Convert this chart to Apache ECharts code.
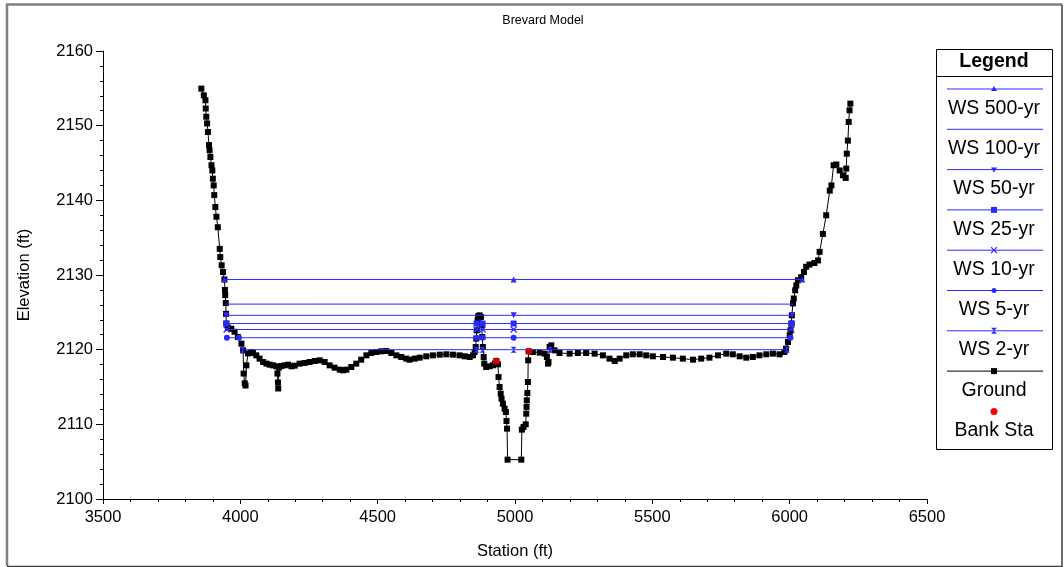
<!DOCTYPE html>
<html>
<head>
<meta charset="utf-8">
<script src="https://cdn.jsdelivr.net/npm/echarts@6/dist/echarts.min.js"></script>
<style>
html,body{margin:0;padding:0;background:#fff;}
#main{width:1064px;height:567px;}
</style>
</head>
<body>
<div id="main"></div>
<script>
// ground profile (station, elevation)
var groundSta = [3858,3867,3873,3874,3876,3879,3882,3886,3888,3891,3895,3898,3900,3903,3905,3909,3913,3918,3925,3927,3932,3937,3942,3944,3945,3947,3948,3949,3955,3967,3979,3991,4004,
	4010,4012,4016,4019,4022,4028,4040,4046,4058,4070,4083,4095,4107,4119,4131,4135,4137,4138,4141,4149,4161,4174,4186,4198,4216,4234,4252,4271,4289,4307,4325,4343,4362,4374,4386,4404,4422,4440,4459,4477,4495,4513,4531,4550,4568,4586,4604,4616,4635,4653,4677,4701,4726,4750,4774,4798,4817,4835,4847,
	4853,4857,4859,4861,4864,4866,4871,4876,4878,4881,4883,4886,4888,4895,4908,4920,4927,4932,4938,4940,4944,4948,4951,4956,4962,4967,4969,4971,4973,5023,5025,5031,5039,5041,5042,5043,5045,5047,5048,5050,5065,5090,5108,5116,5120,5122,5126,5132,5144,
	5162,5199,5229,5259,5290,5320,5344,5363,5381,5405,5429,5454,5478,5502,5539,5575,5611,5648,5678,5708,5739,5769,5793,5818,5842,5866,5890,5915,5939,5963,5981,5987,5994,6000,
	6003,6006,6008,6012,6015,6020,6024,6030,6042,6052,6060,6072,6090,6103,6109,6121,6133,6146,6152,6160,6170,6182,6194,6204,6206,6208,6212,6215,6218,6221];
var groundElev = [2154.96,2154.06,2153.4,2152.3,2151.2,2150.3,2149.15,2147.4,2146.7,2145.8,2144.7,2144.0,2142.9,2142.0,2140.7,2139.1,2137.8,2136.4,2133.5,2132.4,2131.3,2130.4,2129.4,2128.0,2127.3,2126.25,2124.8,2123.5,2122.95,2122.8,2122.4,2121.7,2120.8,
	2119.9,2116.8,2115.5,2115.2,2117.9,2119.5,2119.69,2119.55,2119.24,2118.8,2118.35,2118.13,2117.99,2117.9,2117.77,2116.8,2115.6,2114.8,2117.6,2117.81,2117.9,2117.99,2117.77,2117.86,2118.13,2118.22,2118.35,2118.48,2118.57,2118.35,2117.9,2117.59,2117.32,2117.23,2117.32,2117.68,2118.13,2118.66,2119.24,2119.55,2119.69,2119.78,2119.82,2119.55,2119.24,2119.02,2118.8,2118.66,2118.8,2118.93,2119.11,2119.24,2119.33,2119.38,2119.33,2119.24,2119.11,2119.02,2119.24,
	2119.69,2120.36,2121.48,2122.59,2123.93,2124.47,2124.6,2124.38,2123.26,2121.7,2120.36,2119.02,2118.13,2117.68,2117.77,2117.91,2118.13,2118.49,2118.04,2116.34,2115.0,2114.11,2113.44,2112.77,2112.1,2111.65,2110.45,2109.42,2105.27,2105.27,2109.29,2109.65,2110.0,2111.43,2112.33,2113.22,2114.2,2115.67,2118.57,2119.78,2119.69,2119.6,2119.47,2119.02,2118.13,2118.35,2120.36,2120.58,2119.91,
	2119.55,2119.47,2119.55,2119.55,2119.47,2119.24,2118.8,2118.48,2118.8,2119.24,2119.38,2119.38,2119.24,2119.11,2119.02,2118.93,2118.8,2118.66,2118.8,2118.93,2119.24,2119.47,2119.38,2119.11,2118.93,2119.02,2119.24,2119.38,2119.47,2119.38,2119.69,2120.14,2121.03,2121.92,
	2122.6,2123.5,2124.6,2126.2,2126.85,2127.95,2128.6,2129.3,2129.7,2130.4,2131.1,2131.4,2131.6,2131.95,2133.1,2135.5,2138.0,2141.3,2142.0,2144.7,2144.8,2144.0,2143.35,2143.0,2144.25,2146.25,2148.0,2150.5,2152.05,2152.95];

// water surfaces
var wsNames = ['WS 500-yr','WS 100-yr','WS 50-yr','WS 25-yr','WS 10-yr','WS 5-yr','WS 2-yr'];
var wsElev = [2129.4, 2126.1, 2124.6, 2123.5, 2122.7, 2121.6, 2120.0];
var wsStations = [
	[3942, 4995, 6046],
	[3946, 6013],
	[3948, 4995, 6009],
	[3949, 4860, 4882, 4995, 6008],
	[3950, 4860, 4882, 4995, 6006],
	[3951, 3995, 4860, 4882, 4995, 6003],
	[4008, 4860, 4882, 4995, 5128, 5990]
];

// bank stations
var bankSta = [4932, 5050];
var bankElev = [2118.49, 2119.78];

var FONT = '"Liberation Sans", Arial, sans-serif';
var BLUE = '#2a2aff';
var symX = 'path://M0,0L10,10M10,0L0,10';
var symHour = 'path://M0,0L10,0L0,10L10,10Z';
var wsSymbols = ['triangle', 'none', 'path://M0,0L10,0L5,10Z', 'rect', symX, 'circle', symHour];

var series = [];
series.push({
	name: 'Ground',
	type: 'line',
	data: groundSta.map(function(s, i){ return [s, groundElev[i]]; }),
	symbol: 'rect',
	symbolSize: 6,
	lineStyle: {color: '#000', width: 1},
	itemStyle: {color: '#000'},
	z: 2
});
for (var i = 0; i < wsNames.length; i++) {
	series.push({
		name: wsNames[i],
		type: 'line',
		data: wsStations[i].map(function(s){ return [s, wsElev[i]]; }),
		symbol: wsSymbols[i],
		symbolSize: 6,
		showSymbol: wsSymbols[i] != 'none',
		lineStyle: {color: BLUE, width: 1},
		itemStyle: {color: BLUE, borderColor: BLUE, borderWidth: (wsSymbols[i] == symX ? 1.2 : 0)},
		z: 3
	});
}
series.push({
	name: 'Bank Sta',
	type: 'scatter',
	data: bankSta.map(function(s, i){ return [s, bankElev[i]]; }),
	symbol: 'circle',
	symbolSize: 7,
	itemStyle: {color: '#ff0000'},
	z: 4
});

// legend box drawn by hand (line sample above label, like the original)
var legNames = wsNames.concat(['Ground', 'Bank Sta']);
var legColors = [BLUE, BLUE, BLUE, BLUE, BLUE, BLUE, BLUE, '#000', '#ff0000'];
var legSyms = ['triUp', 'none', 'triDown', 'rect', 'x', 'dot', 'hour', 'rect', 'bank'];

function legSymbol(kind, cx, cy, c) {
	if (kind == 'triUp') return {type: 'polygon', shape: {points: [[cx, cy - 3], [cx + 3, cy + 2], [cx - 3, cy + 2]]}, style: {fill: c}};
	if (kind == 'triDown') return {type: 'polygon', shape: {points: [[cx - 3, cy - 2], [cx + 3, cy - 2], [cx, cy + 3]]}, style: {fill: c}};
	if (kind == 'rect') return {type: 'rect', shape: {x: cx - 3, y: cy - 3, width: 6, height: 6}, style: {fill: c}};
	if (kind == 'dot') return {type: 'circle', shape: {cx: cx, cy: cy, r: 2.5}, style: {fill: c}};
	if (kind == 'bank') return {type: 'circle', shape: {cx: cx, cy: cy, r: 3.5}, style: {fill: c}};
	if (kind == 'x') return {type: 'polyline', shape: {points: [[cx - 3, cy - 3], [cx + 3, cy + 3], [cx, cy], [cx + 3, cy - 3], [cx - 3, cy + 3]]}, style: {stroke: c, lineWidth: 1.2, fill: null}};
	if (kind == 'hour') return {type: 'polygon', shape: {points: [[cx - 3, cy - 3], [cx + 3, cy - 3], [cx - 3, cy + 3], [cx + 3, cy + 3]]}, style: {fill: c}};
	return null;
}

var legend = [];
legend.push({type: 'rect', shape: {x: 936.5, y: 49.5, width: 116, height: 400}, style: {fill: '#fff', stroke: '#000', lineWidth: 1}});
legend.push({type: 'line', shape: {x1: 936.5, y1: 76.5, x2: 1052.5, y2: 76.5}, style: {stroke: '#000', lineWidth: 1}});
legend.push({type: 'text', style: {text: 'Legend', x: 994, y: 62, textAlign: 'center', textVerticalAlign: 'middle', align: 'center', verticalAlign: 'middle', font: 'bold 19.5px ' + FONT, fill: '#000'}});
for (var k = 0; k < legNames.length; k++) {
	var ly = 89 + 40.3 * k;
	if (legSyms[k] != 'bank') {
		legend.push({type: 'line', shape: {x1: 947, y1: ly, x2: 1043, y2: ly}, style: {stroke: legColors[k], lineWidth: 1}});
	}
	var sy = legSymbol(legSyms[k], 994, ly, legColors[k]);
	if (sy) legend.push(sy);
	legend.push({type: 'text', style: {text: legNames[k], x: 994, y: ly + 19.3, textAlign: 'center', textVerticalAlign: 'middle', align: 'center', verticalAlign: 'middle', font: '19.5px ' + FONT, fill: '#000'}});
}

// outer frame
var frame = [
	{type: 'polyline', shape: {points: [[7, 566], [7, 4.5], [1062, 4.5]]}, style: {stroke: '#808080', lineWidth: 2.5, fill: null}},
	{type: 'polyline', shape: {points: [[1062, 4.5], [1062, 566.5], [7, 566.5]]}, style: {stroke: '#404040', lineWidth: 1.5, fill: null}}
];

function plain(v) { return String(v); }

var myChart = echarts.init(document.getElementById('main'), null, {renderer: 'canvas'});
var option = {
	animation: false,
	backgroundColor: '#fff',
	textStyle: {fontFamily: FONT},
	title: {
		text: 'Brevard Model',
		left: 538,
		top: 9,
		textAlign: 'center',
		textStyle: {fontSize: 12.5, fontWeight: 'normal', color: '#000', fontFamily: FONT}
	},
	grid: {left: 103, right: 137, top: 51, bottom: 68, containLabel: false},
	xAxis: {
		type: 'value',
		min: 3500, max: 6500, interval: 500,
		name: 'Station (ft)',
		nameLocation: 'middle',
		nameGap: 44,
		nameTextStyle: {fontSize: 16.5, color: '#000', fontFamily: FONT},
		axisLine: {lineStyle: {color: '#000', width: 1}},
		axisTick: {length: 5, lineStyle: {color: '#000'}},
		minorTick: {show: true, splitNumber: 5, length: 3, lineStyle: {color: '#000'}},
		axisLabel: {fontSize: 16.5, color: '#000', margin: 10, fontFamily: FONT, formatter: plain},
		splitLine: {show: false}
	},
	yAxis: {
		type: 'value',
		min: 2100, max: 2160, interval: 10,
		name: 'Elevation (ft)',
		nameLocation: 'middle',
		nameGap: 70,
		nameTextStyle: {fontSize: 16.5, color: '#000', fontFamily: FONT},
		axisLine: {show: true, lineStyle: {color: '#000', width: 1}},
		axisTick: {show: true, length: 7, lineStyle: {color: '#000'}},
		minorTick: {show: true, splitNumber: 5, length: 3, lineStyle: {color: '#000'}},
		axisLabel: {fontSize: 16.5, color: '#000', margin: 10, fontFamily: FONT, formatter: plain},
		splitLine: {show: false}
	},
	graphic: {elements: frame.concat(legend)},
	series: series
};
myChart.setOption(option);
</script>
</body>
</html>
